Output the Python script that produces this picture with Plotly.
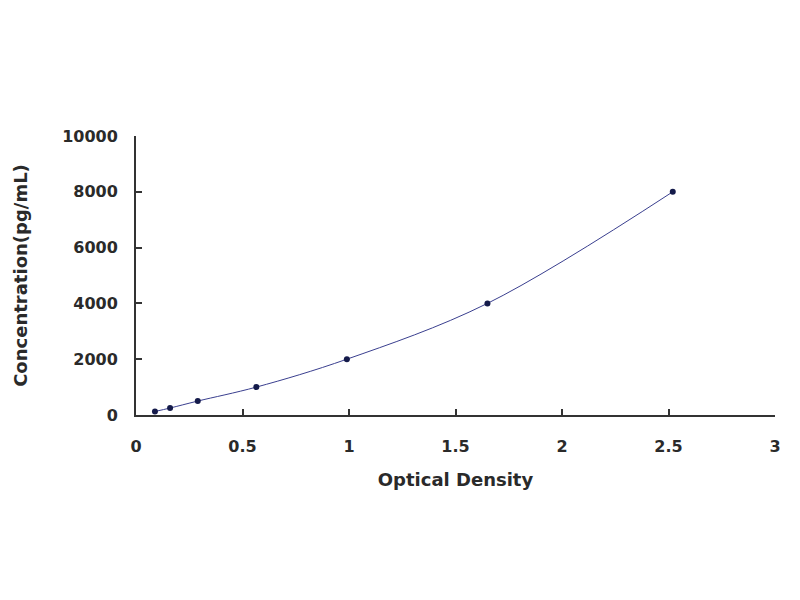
import plotly.graph_objects as go

# standard curve points
od = [0.089, 0.16, 0.29, 0.565, 0.99, 1.65, 2.52]
conc = [125, 250, 500, 1000, 2000, 4000, 8000]

x_ticks = [0, 0.5, 1, 1.5, 2, 2.5, 3]
x_labels = ["0", "0.5", "1", "1.5", "2", "2.5", "3"]
y_ticks = [0, 2000, 4000, 6000, 8000, 10000]
y_labels = ["0", "2000", "4000", "6000", "8000", "10000"]

fig = go.Figure()
fig.add_trace(go.Scatter(x=od, y=conc, mode="lines+markers",
                         line=dict(color="#3a3f8f", width=1, shape="spline"),
                         marker=dict(color="#141a4a", size=6),
                         showlegend=False))

tick_font = dict(family="DejaVu Sans", size=16, color="#2a2a2a", weight="bold")
title_font = dict(family="DejaVu Sans", size=18, color="#2a2a2a", weight="bold")
fig.update_layout(
    width=800, height=600,
    margin=dict(l=126, r=33, t=128, b=193),
    paper_bgcolor="white", plot_bgcolor="white",
    xaxis=dict(range=[0, 3], tickvals=x_ticks, ticktext=x_labels,
               showgrid=False, zeroline=False, showline=True,
               linecolor="#333", linewidth=2, ticks="inside", ticklen=6,
               tickwidth=2, tickcolor="#333", tickfont=tick_font,
               ticklabelstandoff=16,
               title=dict(text="Optical Density", font=title_font, standoff=18)),
    yaxis=dict(range=[0, 10000], tickvals=y_ticks, ticktext=y_labels,
               showgrid=False, zeroline=False, showline=True,
               linecolor="#333", linewidth=2, ticks="inside", ticklen=6,
               tickwidth=2, tickcolor="#333", tickfont=tick_font,
               ticklabelstandoff=13,
               title=dict(text="Concentration(pg/mL)", font=title_font, standoff=30)),
)

fig.write_html("out.html")
